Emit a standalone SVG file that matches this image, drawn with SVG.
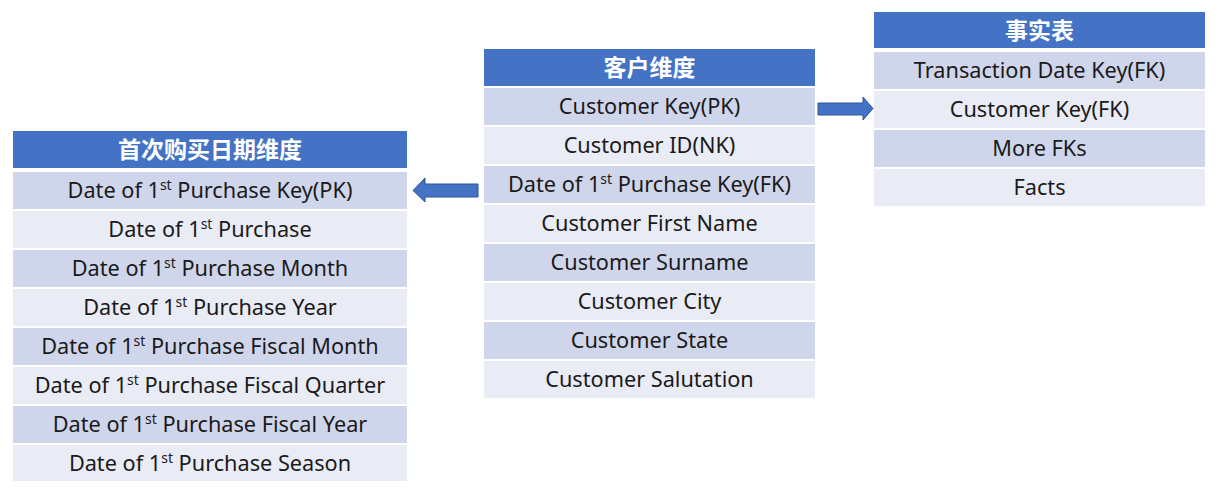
<svg xmlns="http://www.w3.org/2000/svg" width="1226" height="500" viewBox="0 0 1226 500">
<style>
.hd{fill:#4472C4}
.d{fill:#CFD5EA}
.l{fill:#E9EBF5}
.ht{font-family:"Noto Sans CJK SC","Noto Sans",sans-serif;font-size:23px;font-weight:bold;fill:#FFFFFF;text-anchor:middle}
.t{font-family:"Noto Sans","Liberation Sans",sans-serif;font-size:21.7px;fill:#1a1a1a;text-anchor:middle}
.s{font-size:14px}
.ar{fill:#4472C4;stroke:#2F5597;stroke-width:1}
</style>
<rect width="1226" height="500" fill="#FFFFFF"/>
<g id="date-dim">
<rect class="hd" x="13" y="131" width="394" height="37"/>
<text class="ht" x="210" y="158">首次购买日期维度</text>
<rect class="d" x="13" y="172" width="394" height="37"/>
<text class="t" x="210" y="198">Date of 1<tspan class="s" dy="-8">st</tspan><tspan dy="8"> Purchase Key(PK)</tspan></text>
<rect class="l" x="13" y="211" width="394" height="37"/>
<text class="t" x="210" y="237">Date of 1<tspan class="s" dy="-8">st</tspan><tspan dy="8"> Purchase</tspan></text>
<rect class="d" x="13" y="250" width="394" height="37"/>
<text class="t" x="210" y="276">Date of 1<tspan class="s" dy="-8">st</tspan><tspan dy="8"> Purchase Month</tspan></text>
<rect class="l" x="13" y="289" width="394" height="37"/>
<text class="t" x="210" y="315">Date of 1<tspan class="s" dy="-8">st</tspan><tspan dy="8"> Purchase Year</tspan></text>
<rect class="d" x="13" y="328" width="394" height="37"/>
<text class="t" x="210" y="354">Date of 1<tspan class="s" dy="-8">st</tspan><tspan dy="8"> Purchase Fiscal Month</tspan></text>
<rect class="l" x="13" y="367" width="394" height="37"/>
<text class="t" x="210" y="393">Date of 1<tspan class="s" dy="-8">st</tspan><tspan dy="8"> Purchase Fiscal Quarter</tspan></text>
<rect class="d" x="13" y="406" width="394" height="37"/>
<text class="t" x="210" y="432">Date of 1<tspan class="s" dy="-8">st</tspan><tspan dy="8"> Purchase Fiscal Year</tspan></text>
<rect class="l" x="13" y="445" width="394" height="36"/>
<text class="t" x="210" y="471">Date of 1<tspan class="s" dy="-8">st</tspan><tspan dy="8"> Purchase Season</tspan></text>
</g>
<g id="customer-dim">
<rect class="hd" x="484" y="49" width="331" height="37"/>
<text class="ht" x="649.5" y="76">客户维度</text>
<rect class="d" x="484" y="88" width="331" height="37"/>
<text class="t" x="649.5" y="114">Customer Key(PK)</text>
<rect class="l" x="484" y="127" width="331" height="37"/>
<text class="t" x="649.5" y="153">Customer ID(NK)</text>
<rect class="d" x="484" y="166" width="331" height="37"/>
<text class="t" x="649.5" y="192">Date of 1<tspan class="s" dy="-8">st</tspan><tspan dy="8"> Purchase Key(FK)</tspan></text>
<rect class="l" x="484" y="205" width="331" height="37"/>
<text class="t" x="649.5" y="231">Customer First Name</text>
<rect class="d" x="484" y="244" width="331" height="37"/>
<text class="t" x="649.5" y="270">Customer Surname</text>
<rect class="l" x="484" y="283" width="331" height="37"/>
<text class="t" x="649.5" y="309">Customer City</text>
<rect class="d" x="484" y="322" width="331" height="37"/>
<text class="t" x="649.5" y="348">Customer State</text>
<rect class="l" x="484" y="361" width="331" height="37"/>
<text class="t" x="649.5" y="387">Customer Salutation</text>
</g>
<g id="fact-table">
<rect class="hd" x="874" y="12" width="331" height="36"/>
<text class="ht" x="1039.5" y="39">事实表</text>
<rect class="d" x="874" y="52" width="331" height="37"/>
<text class="t" x="1039.5" y="78">Transaction Date Key(FK)</text>
<rect class="l" x="874" y="91" width="331" height="37"/>
<text class="t" x="1039.5" y="117">Customer Key(FK)</text>
<rect class="d" x="874" y="130" width="331" height="37"/>
<text class="t" x="1039.5" y="156">More FKs</text>
<rect class="l" x="874" y="169" width="331" height="37"/>
<text class="t" x="1039.5" y="195">Facts</text>
</g>
<g id="connectors">
<polygon class="ar" points="478,184 425,184 425,178 413,190.5 425,202 425,197 478,197"/>
<polygon class="ar" points="818,103 863,103 863,97 873,108.5 863,120 863,115 818,115"/>
</g>
</svg>
